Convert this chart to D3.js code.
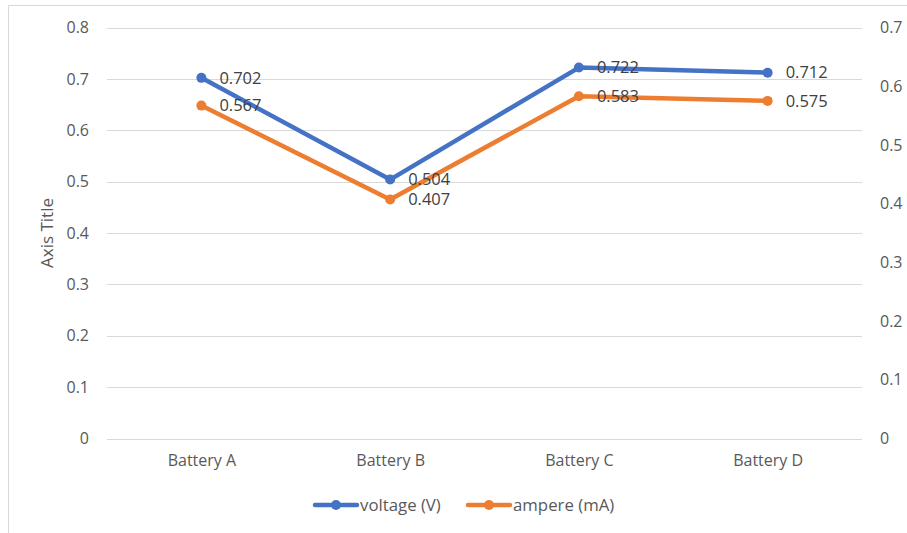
<!DOCTYPE html>
<html>
<head>
<meta charset="utf-8">
<script src="https://cdn.jsdelivr.net/npm/d3@7"></script>
<style>
  html, body { margin: 0; padding: 0; background: #fff; }
  svg { display: block; font-family: "Open Sans", "Liberation Sans", sans-serif; }
</style>
</head>
<body>
<svg id="chart" width="907" height="533"></svg>
<script>
// Chart data
const categories = ["Battery A", "Battery B", "Battery C", "Battery D"];
const voltage = [0.702, 0.504, 0.722, 0.712];   // left axis
const ampere = [0.567, 0.407, 0.583, 0.575];    // right axis
const leftTicks = [0, 0.1, 0.2, 0.3, 0.4, 0.5, 0.6, 0.7, 0.8];
const rightTicks = [0, 0.1, 0.2, 0.3, 0.4, 0.5, 0.6, 0.7];
const seriesNames = ["voltage (V)", "ampere (mA)"];
const seriesColors = ["#4472C4", "#ED7D31"];

const svg = d3.select("#chart");
const W = 907, H = 533;
const plot = { left: 107, right: 862, top: 27.5, bottom: 438.5 };

// Outer chart frame
svg.append("rect")
  .attr("x", 8.5).attr("y", 5.5)
  .attr("width", W + 20).attr("height", H + 20)
  .attr("fill", "none").attr("stroke", "#d9d9d9").attr("stroke-width", 1);

const x = d3.scalePoint().domain(categories)
  .range([plot.left, plot.right]).padding(0.5);
const yL = d3.scaleLinear().domain([0, 0.8]).range([plot.bottom, plot.top]);
const yR = d3.scaleLinear().domain([0, 0.7]).range([plot.bottom, plot.top]);

// Gridlines
svg.append("g").selectAll("line").data(leftTicks).join("line")
  .attr("x1", plot.left).attr("x2", plot.right)
  .attr("y1", d => Math.round(yL(d)) + 0.5).attr("y2", d => Math.round(yL(d)) + 0.5)
  .attr("stroke", "#d9d9d9").attr("stroke-width", 1);

// Left axis
const leftAxis = svg.append("g")
  .attr("transform", `translate(${plot.left},0)`)
  .call(d3.axisLeft(yL).tickValues(leftTicks).tickSize(0).tickPadding(18)
    .tickFormat(d => d === 0 ? "0" : d3.format(".1f")(d)));
leftAxis.select(".domain").remove();
leftAxis.selectAll("text").attr("fill", "#595959").attr("font-size", 16)
  .attr("font-family", "'Open Sans', sans-serif");

// Right axis
const rightAxis = svg.append("g")
  .attr("transform", `translate(${plot.right},0)`)
  .call(d3.axisRight(yR).tickValues(rightTicks).tickSize(0).tickPadding(18)
    .tickFormat(d => d === 0 ? "0" : d3.format(".1f")(d)));
rightAxis.select(".domain").remove();
rightAxis.selectAll("text").attr("fill", "#595959").attr("font-size", 16)
  .attr("font-family", "'Open Sans', sans-serif");

// Category axis
const bottomAxis = svg.append("g")
  .attr("transform", `translate(0,${plot.bottom})`)
  .call(d3.axisBottom(x).tickSize(0).tickPadding(16));
bottomAxis.select(".domain").remove();
bottomAxis.selectAll("text").attr("fill", "#595959").attr("font-size", 16)
  .attr("font-family", "'Open Sans', sans-serif");

// Axis title
svg.append("text")
  .attr("transform", `translate(53,${(plot.top + plot.bottom) / 2}) rotate(-90)`)
  .attr("text-anchor", "middle")
  .attr("font-size", 17).attr("fill", "#595959")
  .text("Axis Title");

// Series
const series = [
  { name: seriesNames[0], values: voltage, scale: yL, color: seriesColors[0] },
  { name: seriesNames[1], values: ampere, scale: yR, color: seriesColors[1] }
];

series.forEach(s => {
  const pts = categories.map((c, i) => [x(c), s.scale(s.values[i])]);
  svg.append("path")
    .attr("d", d3.line()(pts))
    .attr("fill", "none").attr("stroke", s.color)
    .attr("stroke-width", 4.5).attr("stroke-linejoin", "round").attr("stroke-linecap", "round");
  svg.append("g").selectAll("circle").data(pts).join("circle")
    .attr("cx", d => d[0]).attr("cy", d => d[1]).attr("r", 5)
    .attr("fill", s.color);
});

// Data labels, drawn after all lines so they sit on top
series.forEach(s => {
  svg.append("g").selectAll("text").data(categories).join("text")
    .attr("x", c => x(c) + 18)
    .attr("y", (c, i) => s.scale(s.values[i]))
    .attr("dy", "0.35em")
    .attr("font-size", 16.5).attr("fill", "#404040")
    .text((c, i) => d3.format(".3f")(s.values[i]));
});

// Legend
const legend = svg.append("g").attr("transform", "translate(0,505)");
const legendX = [315, 468];
series.forEach((s, i) => {
  const g = legend.append("g").attr("transform", `translate(${legendX[i]},0)`);
  g.append("line").attr("x1", 0).attr("x2", 42).attr("y1", 0).attr("y2", 0)
    .attr("stroke", s.color).attr("stroke-width", 4.5).attr("stroke-linecap", "round");
  g.append("circle").attr("cx", 21).attr("cy", 0).attr("r", 5).attr("fill", s.color);
  g.append("text").attr("x", 45).attr("y", 0).attr("dy", "0.35em")
    .attr("font-size", 16.8).attr("fill", "#595959").text(s.name);
});
</script>
</body>
</html>
